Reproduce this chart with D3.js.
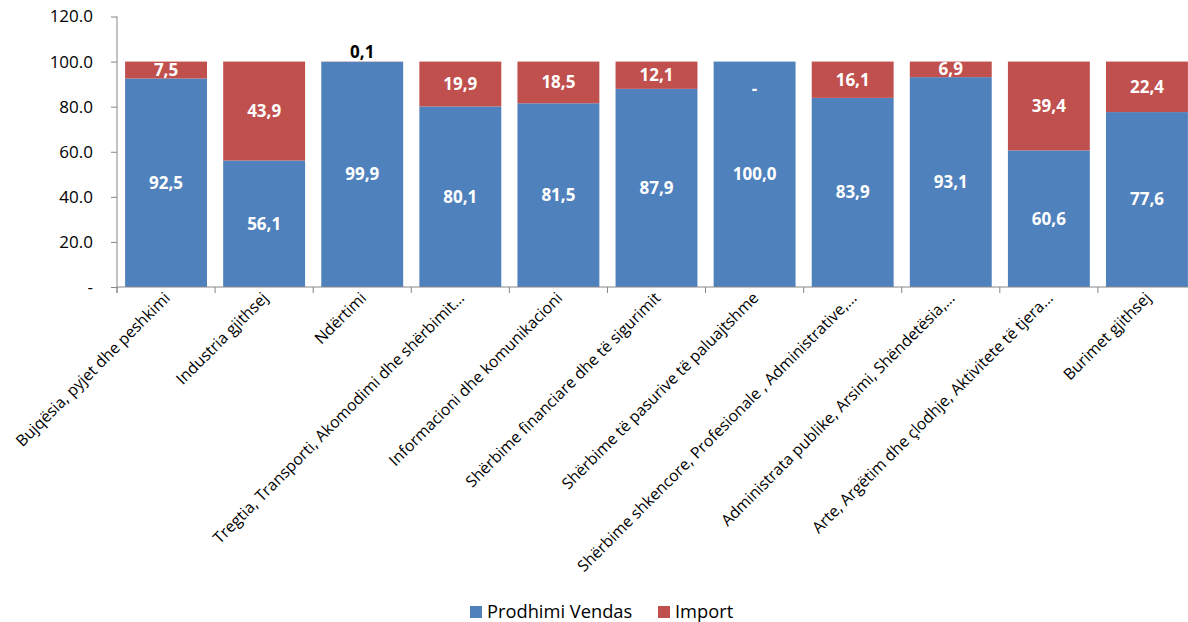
<!DOCTYPE html>
<html lang="sq">
<head>
<meta charset="utf-8">
<script src="https://d3js.org/d3.v7.min.js"></script>
<style>
  body { margin: 0; background: #fff; }
  svg text { font-family: "Open Sans", "Noto Sans", sans-serif; }
</style>
</head>
<body>
<div id="chart"></div>
<script>
const categories = [
  "Bujqësia, pyjet dhe peshkimi",
  "Industria gjithsej",
  "Ndërtimi",
  "Tregtia, Transporti, Akomodimi dhe shërbimit…",
  "Informacioni dhe komunikacioni",
  "Shërbime financiare dhe të sigurimit",
  "Shërbime të pasurive të paluajtshme",
  "Shërbime shkencore, Profesionale , Administrative,…",
  "Administrata publike, Arsimi, Shëndetësia,…",
  "Arte, Argëtim dhe çlodhje, Aktivitete të tjera…",
  "Burimet gjithsej"
];
const vendas = [92.5, 56.1, 99.9, 80.1, 81.5, 87.9, 100.0, 83.9, 93.1, 60.6, 77.6];
const importVals = [7.5, 43.9, 0.1, 19.9, 18.5, 12.1, 0, 16.1, 6.9, 39.4, 22.4];
const yTicks = [0, 20, 40, 60, 80, 100, 120];
const seriesNames = ["Prodhimi Vendas", "Import"];

const W = 1188, H = 622;
const colors = ["#4F81BD", "#C0504D"];
const fmt = v => v === 0 ? "-" : v.toFixed(1).replace(".", ",");

const svg = d3.select("#chart").append("svg")
  .attr("width", W).attr("height", H);

const x = d3.scaleBand().domain(categories).range([117, 1196]).paddingInner(0.165).paddingOuter(0.0825);
const y = d3.scaleLinear().domain([0, 120]).range([287, 16.5]);

// y axis
const yAxis = svg.append("g").attr("transform", "translate(117,0)")
  .call(d3.axisLeft(y).tickValues(yTicks).tickSize(6).tickPadding(18)
    .tickFormat(d => d === 0 ? "-" : d.toFixed(1)));
yAxis.selectAll("line, path").attr("stroke", "#868686");
yAxis.select("path").attr("d", "M0,16.5V293");
yAxis.selectAll("text").attr("font-size", 17).attr("fill", "#000");

// bars
const rows = categories.map((c, i) => ({cat: c, v: vendas[i], m: importVals[i]}));
const g = svg.append("g");
rows.forEach(d => {
  g.append("rect")
    .attr("x", x(d.cat)).attr("width", x.bandwidth())
    .attr("y", y(d.v)).attr("height", y(0) - y(d.v))
    .attr("fill", colors[0]);
  g.append("rect")
    .attr("x", x(d.cat)).attr("width", x.bandwidth())
    .attr("y", y(d.v + d.m)).attr("height", y(d.v) - y(d.v + d.m))
    .attr("fill", colors[1]);
});

// x axis
const step = x.step();
const xAxis = svg.append("g").attr("transform", "translate(0,287)");
xAxis.append("line").attr("x1", 117).attr("x2", W).attr("stroke", "#868686");
categories.forEach((c, i) => {
  const tx = x(c) - x.paddingInner() * step / 2;
  xAxis.append("line").attr("x1", tx).attr("x2", tx).attr("y1", 0).attr("y2", 6).attr("stroke", "#868686");
});
xAxis.selectAll("text.cat").data(categories).join("text")
  .attr("class", "cat")
  .attr("font-size", 15.8)
  .attr("text-anchor", "end")
  .attr("transform", d => `translate(${x(d) + x.bandwidth() / 2 + 5},${12}) rotate(-45)`)
  .text(d => d);

// value labels
const lab = svg.append("g").attr("font-weight", "bold").attr("font-size", 17).attr("text-anchor", "middle");
rows.forEach(d => {
  const cx = x(d.cat) + x.bandwidth() / 2;
  lab.append("text").attr("x", cx).attr("y", y(d.v / 2)).attr("dy", "0.35em")
    .attr("fill", "#fff").text(fmt(d.v));
  if (d.m === 0) {
    lab.append("text").attr("x", cx).attr("y", y(88)).attr("dy", "0.35em")
      .attr("fill", "#fff").text(fmt(d.m));
  } else if (d.m < 1) {
    lab.append("text").attr("x", cx).attr("y", y(d.v + d.m) - 4)
      .attr("fill", "#000").text(fmt(d.m));
  } else {
    lab.append("text").attr("x", cx).attr("y", y(d.v + d.m / 2)).attr("dy", "0.35em")
      .attr("fill", "#fff").text(fmt(d.m));
  }
});

// legend
const legend = svg.append("g").attr("font-size", 18.3);
const lx = [470, 658];
seriesNames.forEach((s, i) => {
  legend.append("rect").attr("x", lx[i]).attr("y", 606).attr("width", 12).attr("height", 12).attr("fill", colors[i]);
  legend.append("text").attr("x", lx[i] + 17).attr("y", 612).attr("dy", "0.35em").text(s);
});
</script>
</body>
</html>
